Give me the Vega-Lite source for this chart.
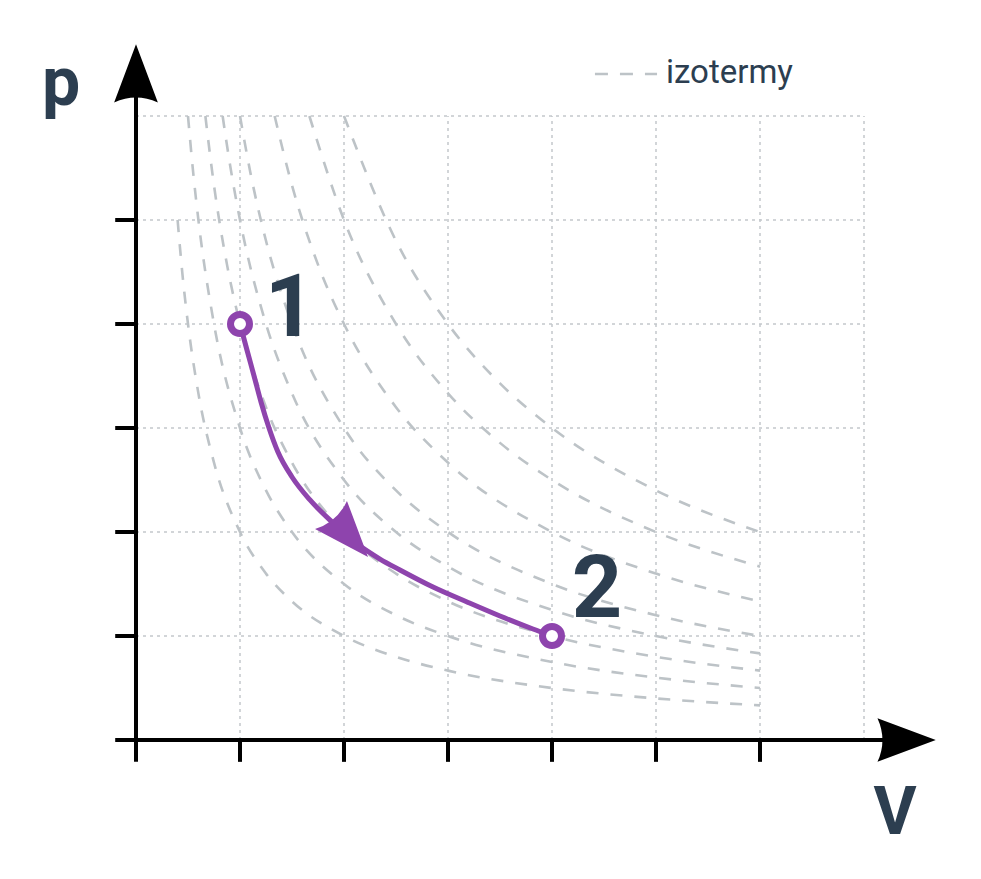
{
  "$schema": "https://vega.github.io/schema/vega-lite/v6.json",
  "width": 981,
  "height": 879,
  "padding": 0,
  "autosize": {"type": "fit", "contains": "padding"},
  "background": "white",
  "config": {"view": {"stroke": null}, "text": {"font": "Roboto"}},
  "data": {"values": [{}]},
  "datasets": {
    "gridV": [{"V": 1}, {"V": 2}, {"V": 3}, {"V": 4}, {"V": 5}, {"V": 6}, {"V": 7}],
    "gridP": [{"p": 1}, {"p": 2}, {"p": 3}, {"p": 4}, {"p": 5}, {"p": 6}],
    "ticksV": [{"V": 1}, {"V": 2}, {"V": 3}, {"V": 4}, {"V": 5}, {"V": 6}],
    "ticksP": [{"p": 1}, {"p": 2}, {"p": 3}, {"p": 4}, {"p": 5}],
    "isotherms": [
      {"c": 2, "V": 0.4, "p": 5}, {"c": 2, "V": 0.45, "p": 4.444}, {"c": 2, "V": 0.5, "p": 4}, {"c": 2, "V": 0.6, "p": 3.333}, {"c": 2, "V": 0.75, "p": 2.667}, {"c": 2, "V": 1, "p": 2}, {"c": 2, "V": 1.25, "p": 1.6}, {"c": 2, "V": 1.5, "p": 1.333}, {"c": 2, "V": 2, "p": 1}, {"c": 2, "V": 2.5, "p": 0.8}, {"c": 2, "V": 3, "p": 0.667}, {"c": 2, "V": 4, "p": 0.5}, {"c": 2, "V": 5, "p": 0.4}, {"c": 2, "V": 6, "p": 0.333},
      {"c": 3, "V": 0.5, "p": 6}, {"c": 3, "V": 0.55, "p": 5.455}, {"c": 3, "V": 0.6, "p": 5}, {"c": 3, "V": 0.75, "p": 4}, {"c": 3, "V": 1, "p": 3}, {"c": 3, "V": 1.25, "p": 2.4}, {"c": 3, "V": 1.5, "p": 2}, {"c": 3, "V": 2, "p": 1.5}, {"c": 3, "V": 2.5, "p": 1.2}, {"c": 3, "V": 3, "p": 1}, {"c": 3, "V": 4, "p": 0.75}, {"c": 3, "V": 5, "p": 0.6}, {"c": 3, "V": 6, "p": 0.5},
      {"c": 4, "V": 0.667, "p": 6}, {"c": 4, "V": 0.75, "p": 5.333}, {"c": 4, "V": 0.875, "p": 4.571}, {"c": 4, "V": 1, "p": 4}, {"c": 4, "V": 1.25, "p": 3.2}, {"c": 4, "V": 1.5, "p": 2.667}, {"c": 4, "V": 2, "p": 2}, {"c": 4, "V": 2.5, "p": 1.6}, {"c": 4, "V": 3, "p": 1.333}, {"c": 4, "V": 4, "p": 1}, {"c": 4, "V": 5, "p": 0.8}, {"c": 4, "V": 6, "p": 0.667},
      {"c": 5, "V": 0.833, "p": 6}, {"c": 5, "V": 0.9, "p": 5.556}, {"c": 5, "V": 1, "p": 5}, {"c": 5, "V": 1.25, "p": 4}, {"c": 5, "V": 1.5, "p": 3.333}, {"c": 5, "V": 2, "p": 2.5}, {"c": 5, "V": 2.5, "p": 2}, {"c": 5, "V": 3, "p": 1.667}, {"c": 5, "V": 4, "p": 1.25}, {"c": 5, "V": 5, "p": 1}, {"c": 5, "V": 6, "p": 0.833},
      {"c": 6, "V": 1, "p": 6}, {"c": 6, "V": 1.1, "p": 5.455}, {"c": 6, "V": 1.25, "p": 4.8}, {"c": 6, "V": 1.5, "p": 4}, {"c": 6, "V": 2, "p": 3}, {"c": 6, "V": 2.5, "p": 2.4}, {"c": 6, "V": 3, "p": 2}, {"c": 6, "V": 4, "p": 1.5}, {"c": 6, "V": 5, "p": 1.2}, {"c": 6, "V": 6, "p": 1},
      {"c": 8, "V": 1.333, "p": 6}, {"c": 8, "V": 1.5, "p": 5.333}, {"c": 8, "V": 1.75, "p": 4.571}, {"c": 8, "V": 2, "p": 4}, {"c": 8, "V": 2.5, "p": 3.2}, {"c": 8, "V": 3, "p": 2.667}, {"c": 8, "V": 4, "p": 2}, {"c": 8, "V": 5, "p": 1.6}, {"c": 8, "V": 6, "p": 1.333},
      {"c": 10, "V": 1.667, "p": 6}, {"c": 10, "V": 2, "p": 5}, {"c": 10, "V": 2.5, "p": 4}, {"c": 10, "V": 3, "p": 3.333}, {"c": 10, "V": 3.5, "p": 2.857}, {"c": 10, "V": 4, "p": 2.5}, {"c": 10, "V": 5, "p": 2}, {"c": 10, "V": 6, "p": 1.667},
      {"c": 12, "V": 2, "p": 6}, {"c": 12, "V": 2.5, "p": 4.8}, {"c": 12, "V": 3, "p": 4}, {"c": 12, "V": 3.5, "p": 3.429}, {"c": 12, "V": 4, "p": 3}, {"c": 12, "V": 5, "p": 2.4}, {"c": 12, "V": 6, "p": 2}
    ],
    "process": [
      {"V": 1.0, "p": 4.0}, {"V": 1.067, "p": 3.75}, {"V": 1.135, "p": 3.5}, {"V": 1.202, "p": 3.25}, {"V": 1.279, "p": 3.0}, {"V": 1.365, "p": 2.769}, {"V": 1.5, "p": 2.529}, {"V": 1.673, "p": 2.308}, {"V": 1.885, "p": 2.096}, {"V": 2.115, "p": 1.894}, {"V": 2.346, "p": 1.74}, {"V": 2.538, "p": 1.635}, {"V": 2.856, "p": 1.471}, {"V": 3.183, "p": 1.327}, {"V": 3.5, "p": 1.192}, {"V": 3.817, "p": 1.067}, {"V": 4.0, "p": 1.0}
    ],
    "states": [{"V": 1, "p": 4, "label": "1"}, {"V": 4, "p": 1, "label": "2"}]
  },
  "layer": [
    {
      "data": {"name": "gridV"},
      "mark": {"type": "rule", "stroke": "#c3c7cb", "strokeWidth": 1.5, "strokeDash": [3, 4]},
      "encoding": {
        "x": {"field": "V", "type": "quantitative", "scale": {"domain": [-1.3077, 8.125], "nice": false, "zero": false}, "axis": null},
        "y": {"datum": 0, "type": "quantitative", "scale": {"domain": [-1.3365, 7.1154], "nice": false, "zero": false}, "axis": null},
        "y2": {"datum": 6}
      }
    },
    {
      "data": {"name": "gridP"},
      "mark": {"type": "rule", "stroke": "#c3c7cb", "strokeWidth": 1.5, "strokeDash": [3, 4]},
      "encoding": {
        "y": {"field": "p", "type": "quantitative", "scale": {"domain": [-1.3365, 7.1154], "nice": false, "zero": false}, "axis": null},
        "x": {"datum": 0, "type": "quantitative", "scale": {"domain": [-1.3077, 8.125], "nice": false, "zero": false}, "axis": null},
        "x2": {"datum": 7}
      }
    },
    {
      "data": {"name": "isotherms"},
      "mark": {"type": "line", "stroke": "#bdc3c7", "strokeWidth": 2.6, "strokeDash": [12, 12], "interpolate": "monotone"},
      "encoding": {
        "x": {"field": "V", "type": "quantitative", "scale": {"domain": [-1.3077, 8.125], "nice": false, "zero": false}, "axis": null},
        "y": {"field": "p", "type": "quantitative", "scale": {"domain": [-1.3365, 7.1154], "nice": false, "zero": false}, "axis": null},
        "detail": {"field": "c", "type": "nominal"}
      }
    },
    {
      "mark": {"type": "rule", "stroke": "#bdc3c7", "strokeWidth": 2.6, "strokeDash": [13, 12]},
      "encoding": {
        "x": {"datum": 4.413, "type": "quantitative", "scale": {"domain": [-1.3077, 8.125], "nice": false, "zero": false}, "axis": null},
        "x2": {"datum": 5.01},
        "y": {"datum": 6.404, "type": "quantitative", "scale": {"domain": [-1.3365, 7.1154], "nice": false, "zero": false}, "axis": null}
      }
    },
    {
      "mark": {"type": "text", "text": "izotermy", "align": "left", "baseline": "alphabetic", "fontSize": 33, "fill": "#2c3e50", "font": "Roboto"},
      "encoding": {
        "x": {"datum": 5.096, "type": "quantitative", "scale": {"domain": [-1.3077, 8.125], "nice": false, "zero": false}, "axis": null},
        "y": {"datum": 6.317, "type": "quantitative", "scale": {"domain": [-1.3365, 7.1154], "nice": false, "zero": false}, "axis": null}
      }
    },
    {
      "mark": {"type": "rule", "stroke": "#000000", "strokeWidth": 4},
      "encoding": {
        "x": {"datum": 0, "type": "quantitative", "scale": {"domain": [-1.3077, 8.125], "nice": false, "zero": false}, "axis": null},
        "y": {"datum": -0.21, "type": "quantitative", "scale": {"domain": [-1.3365, 7.1154], "nice": false, "zero": false}, "axis": null},
        "y2": {"datum": 6.2}
      }
    },
    {
      "mark": {"type": "rule", "stroke": "#000000", "strokeWidth": 4},
      "encoding": {
        "y": {"datum": 0, "type": "quantitative", "scale": {"domain": [-1.3365, 7.1154], "nice": false, "zero": false}, "axis": null},
        "x": {"datum": -0.2, "type": "quantitative", "scale": {"domain": [-1.3077, 8.125], "nice": false, "zero": false}, "axis": null},
        "x2": {"datum": 7.3}
      }
    },
    {
      "data": {"name": "ticksV"},
      "mark": {"type": "rule", "stroke": "#000000", "strokeWidth": 4},
      "encoding": {
        "x": {"field": "V", "type": "quantitative", "scale": {"domain": [-1.3077, 8.125], "nice": false, "zero": false}, "axis": null},
        "y": {"datum": 0, "type": "quantitative", "scale": {"domain": [-1.3365, 7.1154], "nice": false, "zero": false}, "axis": null},
        "y2": {"datum": -0.21}
      }
    },
    {
      "data": {"name": "ticksP"},
      "mark": {"type": "rule", "stroke": "#000000", "strokeWidth": 4},
      "encoding": {
        "y": {"field": "p", "type": "quantitative", "scale": {"domain": [-1.3365, 7.1154], "nice": false, "zero": false}, "axis": null},
        "x": {"datum": -0.2, "type": "quantitative", "scale": {"domain": [-1.3077, 8.125], "nice": false, "zero": false}, "axis": null},
        "x2": {"datum": 0}
      }
    },
    {
      "mark": {"type": "point", "shape": "M0,-1 L0.75,1 Q0,0.66 -0.75,1 Z", "filled": true, "fill": "#000000", "opacity": 1, "size": 3400, "strokeWidth": 0},
      "encoding": {
        "x": {"datum": 0, "type": "quantitative", "scale": {"domain": [-1.3077, 8.125], "nice": false, "zero": false}, "axis": null},
        "y": {"datum": 6.41, "type": "quantitative", "scale": {"domain": [-1.3365, 7.1154], "nice": false, "zero": false}, "axis": null}
      }
    },
    {
      "mark": {"type": "point", "shape": "M0,-1 L0.75,1 Q0,0.66 -0.75,1 Z", "filled": true, "fill": "#000000", "opacity": 1, "size": 3400, "strokeWidth": 0, "angle": 90},
      "encoding": {
        "x": {"datum": 7.41, "type": "quantitative", "scale": {"domain": [-1.3077, 8.125], "nice": false, "zero": false}, "axis": null},
        "y": {"datum": 0, "type": "quantitative", "scale": {"domain": [-1.3365, 7.1154], "nice": false, "zero": false}, "axis": null}
      }
    },
    {
      "data": {"name": "process"},
      "mark": {"type": "line", "stroke": "#8e44ad", "strokeWidth": 5, "interpolate": "monotone"},
      "encoding": {
        "x": {"field": "V", "type": "quantitative", "scale": {"domain": [-1.3077, 8.125], "nice": false, "zero": false}, "axis": null},
        "y": {"field": "p", "type": "quantitative", "scale": {"domain": [-1.3365, 7.1154], "nice": false, "zero": false}, "axis": null}
      }
    },
    {
      "mark": {"type": "point", "shape": "M0,-1 L0.76,1 Q0,0.66 -0.76,1 Z", "filled": true, "fill": "#8e44ad", "opacity": 1, "size": 3136, "strokeWidth": 0, "angle": 138.6},
      "encoding": {
        "x": {"datum": 2.053, "type": "quantitative", "scale": {"domain": [-1.3077, 8.125], "nice": false, "zero": false}, "axis": null},
        "y": {"datum": 1.962, "type": "quantitative", "scale": {"domain": [-1.3365, 7.1154], "nice": false, "zero": false}, "axis": null}
      }
    },
    {
      "data": {"name": "states"},
      "mark": {"type": "point", "shape": "circle", "filled": false, "fill": "#ffffff", "fillOpacity": 1, "stroke": "#8e44ad", "strokeWidth": 7, "opacity": 1, "size": 361},
      "encoding": {
        "x": {"field": "V", "type": "quantitative", "scale": {"domain": [-1.3077, 8.125], "nice": false, "zero": false}, "axis": null},
        "y": {"field": "p", "type": "quantitative", "scale": {"domain": [-1.3365, 7.1154], "nice": false, "zero": false}, "axis": null}
      }
    },
    {
      "mark": {"type": "text", "text": "1", "align": "center", "baseline": "alphabetic", "fontSize": 88, "fontWeight": "bold", "fill": "#2c3e50", "font": "Roboto"},
      "encoding": {
        "x": {"datum": 1.48, "type": "quantitative", "scale": {"domain": [-1.3077, 8.125], "nice": false, "zero": false}, "axis": null},
        "y": {"datum": 3.885, "type": "quantitative", "scale": {"domain": [-1.3365, 7.1154], "nice": false, "zero": false}, "axis": null}
      }
    },
    {
      "mark": {"type": "text", "text": "2", "align": "center", "baseline": "alphabetic", "fontSize": 88, "fontWeight": "bold", "fill": "#2c3e50", "font": "Roboto"},
      "encoding": {
        "x": {"datum": 4.433, "type": "quantitative", "scale": {"domain": [-1.3077, 8.125], "nice": false, "zero": false}, "axis": null},
        "y": {"datum": 1.183, "type": "quantitative", "scale": {"domain": [-1.3365, 7.1154], "nice": false, "zero": false}, "axis": null}
      }
    },
    {
      "mark": {"type": "text", "text": "p", "align": "center", "baseline": "alphabetic", "fontSize": 68, "fontWeight": "bold", "fill": "#2c3e50", "font": "Roboto"},
      "encoding": {
        "x": {"datum": -0.721, "type": "quantitative", "scale": {"domain": [-1.3077, 8.125], "nice": false, "zero": false}, "axis": null},
        "y": {"datum": 6.106, "type": "quantitative", "scale": {"domain": [-1.3365, 7.1154], "nice": false, "zero": false}, "axis": null}
      }
    },
    {
      "mark": {"type": "text", "text": "V", "align": "center", "baseline": "alphabetic", "fontSize": 66, "fontWeight": "bold", "fill": "#2c3e50", "font": "Roboto"},
      "encoding": {
        "x": {"datum": 7.298, "type": "quantitative", "scale": {"domain": [-1.3077, 8.125], "nice": false, "zero": false}, "axis": null},
        "y": {"datum": -0.904, "type": "quantitative", "scale": {"domain": [-1.3365, 7.1154], "nice": false, "zero": false}, "axis": null}
      }
    }
  ]
}
